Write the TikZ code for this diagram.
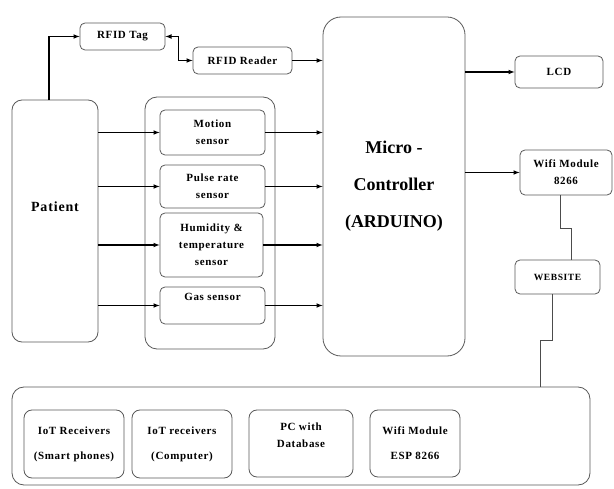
\documentclass[tikz,border=0pt]{standalone}
\usepackage{fontspec}
\setmainfont{Liberation Serif}
\newfontfamily\labelfont[LetterSpace=6]{Liberation Serif}
\usetikzlibrary{arrows}
\usetikzlibrary{shapes}

\tikzset{
  blk/.style={draw=black!65, line width=0.8pt, rounded corners=5pt, align=center,
    font=\labelfont\bfseries\fontsize{11}{17}\selectfont},
  bigblk/.style={blk, rounded corners=14pt},
  grp/.style={draw=black!65, line width=0.8pt, rounded corners=12pt},
  conn/.style={->, >=latex, line width=1.1pt},
  wire/.style={draw=black!70, line width=0.8pt}
}

\begin{document}
\begin{tikzpicture}[x=1pt, y=-1pt]
	 \useasboundingbox (0,0) rectangle (614,489);
	 %
	 \node (tag) at (122.5,36.5) [blk,minimum width=85pt,minimum height=27pt] {RFID Tag};
	 %
	 \node (reader) at (242.5,60.5) [blk,minimum width=99pt,minimum height=27pt] {RFID Reader};
	 %
	 \node (pat) at (55,221) [bigblk,rounded corners=10pt,minimum width=86pt,minimum height=242pt,
	   font=\labelfont\bfseries\fontsize{14}{17}\selectfont] {Patient\\[12pt]\mbox{}};
	 %
	 \node (sgrp) at (210,223) [grp,minimum width=130pt,minimum height=252pt] {};
	 %
	 \node (mot) at (212.5,132.5) [blk,minimum width=105pt,minimum height=45pt] {Motion\\sensor};
	 %
	 \node (pul) at (212.5,186.5) [blk,minimum width=105pt,minimum height=43pt] {Pulse rate\\sensor};
	 %
	 \node (hum) at (211.5,245) [blk,minimum width=103pt,minimum height=64pt] {Humidity \&\\temperature\\sensor};
	 %
	 \node (gas) at (212.5,305.5) [blk,minimum width=105pt,minimum height=37pt] {Gas sensor\\\mbox{}};
	 %
	 \node (mc) at (394,186.5) [bigblk,rounded corners=18pt,minimum width=142pt,minimum height=339pt,
	   font=\bfseries\fontsize{18}{37}\selectfont] {Micro -\\Controller\\(ARDUINO)};
	 %
	 \node (lcd) at (559,72) [blk,minimum width=88pt,minimum height=32pt] {LCD};
	 %
	 \node (wifi) at (566,172.5) [blk,minimum width=92pt,minimum height=45pt] {Wifi Module\\8266};
	 %
	 \node (web) at (557.5,277) [blk,minimum width=85pt,minimum height=34pt,
	   font=\labelfont\bfseries\fontsize{9.5}{12}\selectfont] {WEBSITE};
	 %
	 \node (bot) at (301,436) [grp,minimum width=578pt,minimum height=98pt] {};
	 %
	 \node (iotp) at (74,444) [blk,rounded corners=8pt,minimum width=100pt,minimum height=68pt] {IoT Receivers\\[8pt](Smart phones)};
	 %
	 \node (iotc) at (182,444) [blk,rounded corners=8pt,minimum width=100pt,minimum height=68pt] {IoT receivers\\[8pt](Computer)};
	 %
	 \node (pc) at (301,443.5) [blk,rounded corners=8pt,minimum width=104pt,minimum height=67pt] {PC with\\Database\\\mbox{}};
	 %
	 \node (esp) at (415,443.5) [blk,rounded corners=8pt,minimum width=90pt,minimum height=67pt] {Wifi Module\\[8pt]ESP 8266};
	 %
	 %Patient-Tag
	 \draw[conn] ([xshift=-6pt]pat.north) |- (tag.west);
	 %
	 %Tag-Reader
	 \draw[conn, <->] (tag.east) -- ++(13,0) |- (reader.west);
	 %
	 %Reader-MC
	 \draw[conn] (reader.east) -- (reader.east -| mc.west);
	 %
	 %Patient-Sensors-MC
	 \foreach \s in {mot,pul,hum,gas}{
	   \draw[conn] (pat.east |- \s.west) -- (\s.west);
	   \draw[conn] (\s.east) -- (\s.east -| mc.west);
	 }
	 %
	 %MC-LCD, MC-Wifi
	 \draw[conn] (mc.east |- lcd.west) -- (lcd.west);
	 \draw[conn] (mc.east |- wifi.west) -- (wifi.west);
	 %
	 %Wifi-Website
	 \draw[wire] ([xshift=-6pt]wifi.south) -- ++(0,33) -| ([xshift=14pt]web.north);
	 %
	 %Website-Receivers
	 \draw[wire] ([xshift=-5pt]web.south) -- ++(0,46) -| ([xshift=-50pt]bot.north east);
\end{tikzpicture}
\end{document}
